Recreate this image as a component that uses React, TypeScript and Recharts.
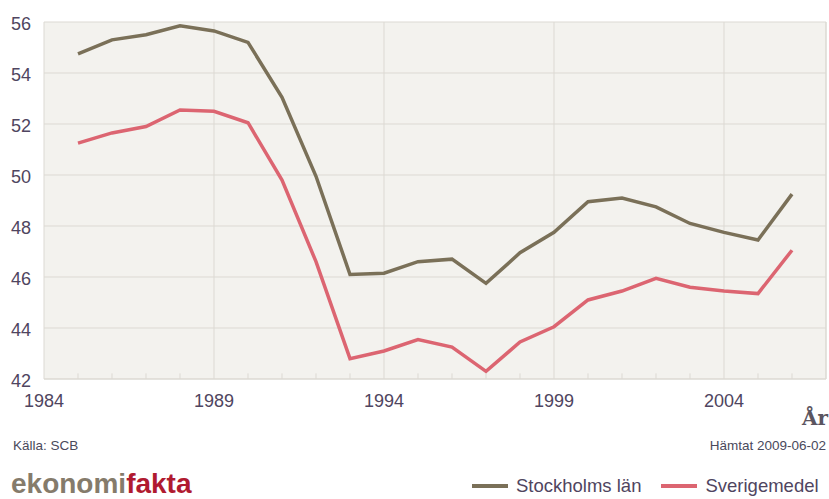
import React from 'react';
import { LineChart, Line, XAxis, YAxis, CartesianGrid, ReferenceLine, Legend } from 'recharts';

// Andel (%) per år
const years = [1985, 1986, 1987, 1988, 1989, 1990, 1991, 1992, 1993, 1994, 1995, 1996, 1997, 1998, 1999, 2000, 2001, 2002, 2003, 2004, 2005, 2006];
const stockholm = [54.75, 55.3, 55.5, 55.85, 55.65, 55.2, 53.05, 49.95, 46.1, 46.15, 46.6, 46.7, 45.75, 46.95, 47.75, 48.95, 49.1, 48.75, 48.1, 47.75, 47.45, 49.25];
const sverige = [51.25, 51.65, 51.9, 52.55, 52.5, 52.05, 49.8, 46.6, 42.8, 43.1, 43.55, 43.25, 42.3, 43.45, 44.05, 45.1, 45.45, 45.95, 45.6, 45.45, 45.35, 47.05];

const xTicks = [1984, 1989, 1994, 1999, 2004];
const minorTicks = [1985, 1986, 1987, 1988, 1990, 1991, 1992, 1993, 1995, 1996, 1997, 1998, 2000, 2001, 2002, 2003, 2005, 2006];
const yTicks = [42, 44, 46, 48, 50, 52, 54, 56];

const series = [
  { key: 'stockholm', name: 'Stockholms län', color: '#7a7058' },
  { key: 'sverige', name: 'Sverigemedel', color: '#dc6571' },
];

const data = years.map((year, i) => ({ year, stockholm: stockholm[i], sverige: sverige[i] }));

const GRID = '#dcd9d3';
const TEXT = '#4f4560';
const FONT = '"Liberation Sans", Arial, sans-serif';

const LegendContent = () => (
  <div style={{ display: 'flex', gap: 20, fontFamily: FONT, fontSize: 18.5, lineHeight: '22px', color: TEXT, whiteSpace: 'nowrap' }}>
    {series.map(s => (
      <div key={s.key} style={{ display: 'flex', alignItems: 'center' }}>
        <span style={{ display: 'inline-block', width: 36, height: 4, background: s.color, marginRight: 8 }} />
        {s.name}
      </div>
    ))}
  </div>
);

export default function App() {
  return (
    <div style={{ position: 'absolute', left: 0, top: 0, width: 829, height: 499, overflow: 'hidden', background: '#fff', fontFamily: FONT }}>
      <LineChart width={829} height={499} data={data} margin={{ top: 22, right: 3, left: 0, bottom: 90 }}>
        <CartesianGrid stroke={GRID} fill="#f3f2ee" />
        <XAxis
          dataKey="year"
          type="number"
          domain={[1984, 2007]}
          ticks={xTicks}
          interval={0}
          height={30}
          axisLine={{ stroke: GRID }}
          tickLine={false}
          tickMargin={9}
          tick={{ fill: TEXT, fontSize: 18, fontFamily: FONT }}
        />
        <YAxis
          type="number"
          domain={[42, 56]}
          ticks={yTicks}
          width={44}
          axisLine={false}
          tickLine={false}
          tickMargin={7}
          tick={{ fill: TEXT, fontSize: 18, fontFamily: FONT, dy: 2 }}
        />
        <ReferenceLine x={2007} stroke={GRID} />
        {minorTicks.map(yr => (
          <ReferenceLine key={yr} segment={[{ x: yr, y: 42 }, { x: yr, y: 42.22 }]} stroke={GRID} />
        ))}
        {series.map(s => (
          <Line
            key={s.key}
            dataKey={s.key}
            name={s.name}
            stroke={s.color}
            strokeWidth={3.5}
            dot={false}
            activeDot={false}
            isAnimationActive={false}
          />
        ))}
        <Legend
          layout="horizontal"
          verticalAlign="middle"
          content={<LegendContent />}
          wrapperStyle={{ left: 472, top: 475, width: 'auto' }}
        />
      </LineChart>
      <div style={{ position: 'absolute', left: 802, top: 406, fontFamily: '"DejaVu Serif", serif', fontWeight: 'bold', fontSize: 20, color: '#5b5560' }}>År</div>
      <div style={{ position: 'absolute', left: 13, top: 438, fontSize: 13.5, color: '#4a4a5c' }}>Källa: SCB</div>
      <div style={{ position: 'absolute', right: 3, top: 438, fontSize: 13.5, color: '#4a4a5c' }}>Hämtat 2009-06-02</div>
      <div style={{ position: 'absolute', left: 11, top: 470, fontSize: 28, lineHeight: 1, fontWeight: 'bold', whiteSpace: 'nowrap' }}>
        <span style={{ color: '#857b6b' }}>ekonomi</span>
        <span style={{ color: '#b01a30' }}>fakta</span>
      </div>
    </div>
  );
}
